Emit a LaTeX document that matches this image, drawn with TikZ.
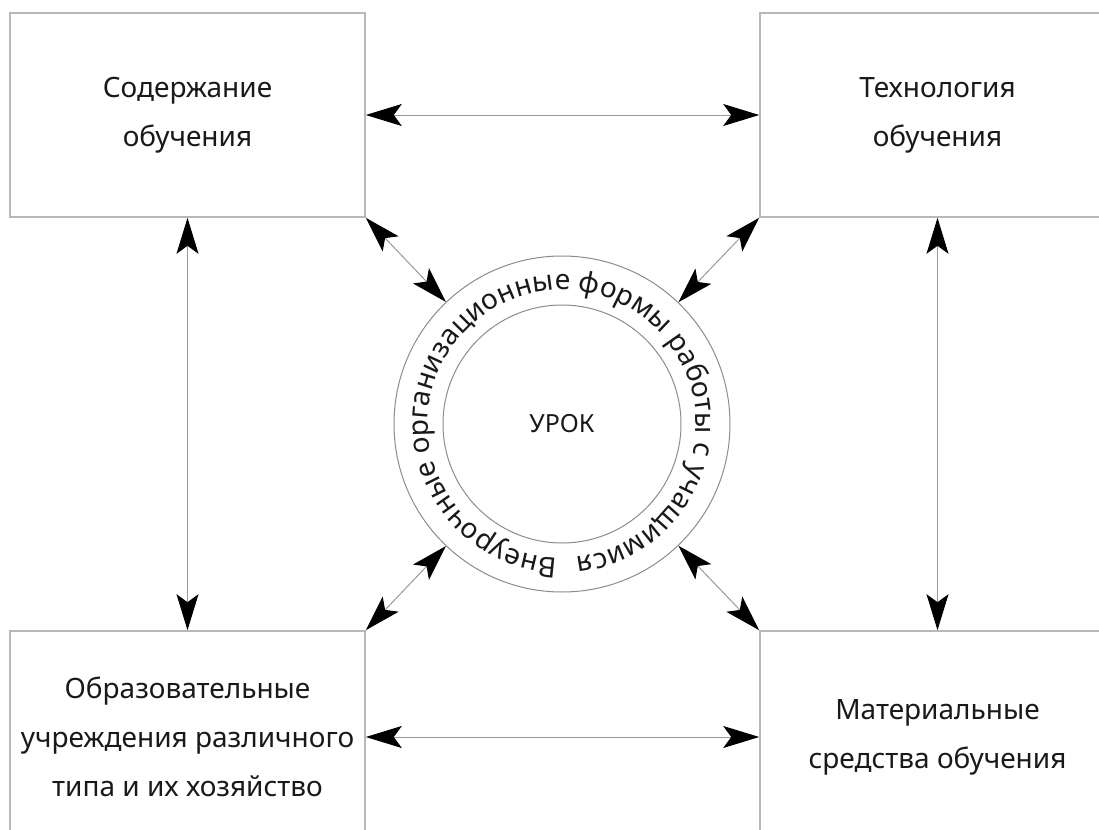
\documentclass[tikz,border=0pt]{standalone}
\usepackage{fontspec}
\setmainfont{Noto Sans}
\usetikzlibrary{arrows.meta,decorations.text}

\begin{document}
\begin{tikzpicture}[x=0.5pt,y=-0.5pt]
    \tikzstyle{box}=[rectangle,draw=black!28,line width=0.8pt,minimum width=177.5pt,minimum height=102pt,inner sep=0pt,align=center,text=black!90,font=\fontsize{14}{24.5}\selectfont]
    \tikzstyle{ring}=[circle,draw=black!45,line width=0.5pt,minimum size=168pt,inner sep=0pt]
    \tikzstyle{core}=[circle,draw=black!45,line width=0.5pt,minimum size=119pt,inner sep=0pt,text=black!90,font=\fontsize{12.5}{15}\selectfont]
    \tikzstyle{link} = [{Stealth[length=18pt,width=11pt,inset=4pt,color=black]}-{Stealth[length=18pt,width=11pt,inset=4pt,color=black]}, draw=black!40, line width=0.5pt]

    \useasboundingbox (0,0) rectangle (1099,830);

    \node[box] (content) at (187.5,115) {Содержание\\обучения};
    \node[box] (technology) at (937.5,115) {Технология\\обучения};
    \node[box, minimum height=106pt] (schools) at (187.5,737) {Образовательные\\учреждения различного\\типа и их хозяйство};
    \node[box, minimum height=106pt] (means) at (937.5,737) {Материальные\\средства обучения};

    \node[ring] (forms) at (562,424) {};
    \node[core] (lesson) at (562,424) {УРОК};

    \path[decorate, decoration={text along path, text align=fit to path,
        text={|\fontsize{14}{16}\selectfont\color{black!90}|Внеурочные организационные формы работы с учащимися}}]
        (lesson) ++(268:67pt) arc[start angle=268, end angle=-84, radius=67pt];

    \draw[link] (content) -- (technology);
    \draw[link] (schools) -- (means);
    \draw[link] (content) -- (schools);
    \draw[link] (technology) -- (means);

    \draw[link] (content.south east) -- (forms);
    \draw[link] (technology.south west) -- (forms);
    \draw[link] (schools.north east) -- (forms);
    \draw[link] (means.north west) -- (forms);
\end{tikzpicture}
\end{document}
